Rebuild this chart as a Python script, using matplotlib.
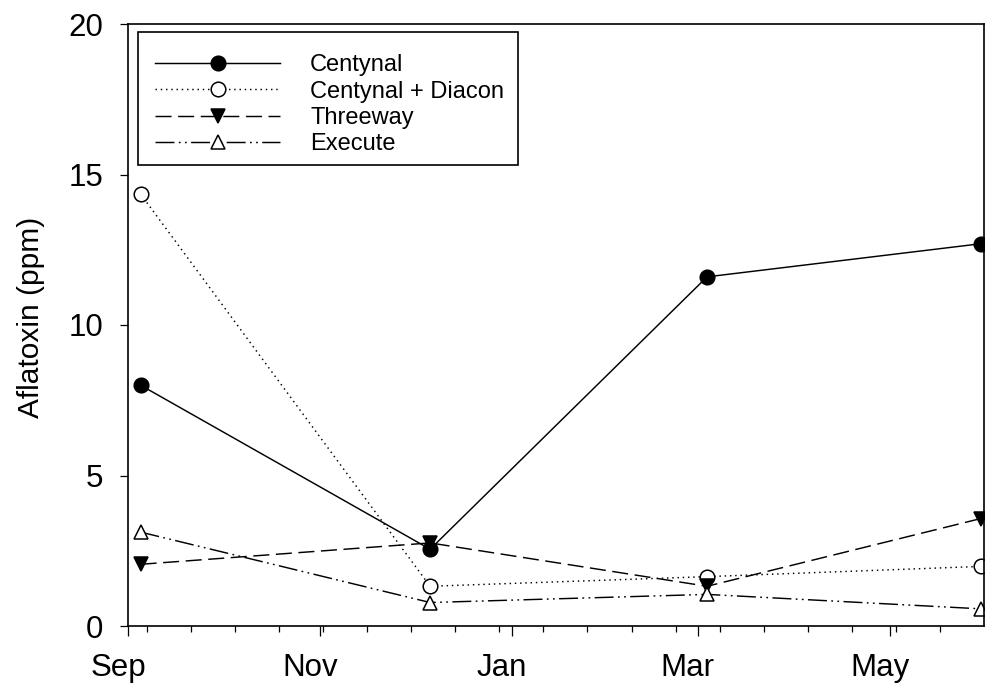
import datetime as dt
import matplotlib
matplotlib.use("Agg")
import matplotlib.pyplot as plt
import matplotlib.dates as mdates
import matplotlib.transforms as mtransforms
from matplotlib.patches import Rectangle

plt.rcParams['font.family'] = ['Liberation Sans', 'DejaVu Sans']

# ---- data ----
sample_dates = ["2004-09-05", "2004-12-06", "2005-03-04", "2005-05-30"]
centynal = [8.0, 2.55, 11.6, 12.7]
centynal_diacon = [14.35, 1.32, 1.64, 1.98]
threeway = [2.05, 2.76, 1.32, 3.57]
execute = [3.12, 0.78, 1.05, 0.57]
series_names = ["Centynal", "Centynal + Diacon", "Threeway", "Execute"]
month_labels = ["Sep", "Nov", "Jan", "Mar", "May"]
y_ticks = [0, 5, 10, 15, 20]

dates = [dt.datetime.strptime(d, "%Y-%m-%d") for d in sample_dates]
x_start = dt.datetime(2004, 9, 1)
x_end = dt.datetime(2005, 5, 31)

fig = plt.figure(figsize=(9.91, 6.98), dpi=100)
ax = fig.add_axes([128/991, 72/698, 856/991, 602/698])

styles = [
    dict(linestyle='-', marker='o', mfc='black'),
    dict(linestyle=(0, (1, 2.6)), marker='o', mfc='white'),
    dict(linestyle=(0, (11, 4.5)), marker='v', mfc='black'),
    dict(linestyle=(0, (13, 3, 1.2, 3, 1.2, 3)), marker='^', mfc='white'),
]
for vals, name, st in zip([centynal, centynal_diacon, threeway, execute], series_names, styles):
    ax.plot(dates, vals, color='black', lw=1.05, markersize=10.5,
            mec='black', mew=1.1, label=name, **st)

ax.set_xlim(x_start, x_end)
ax.set_ylim(0, 20)
ax.set_yticks(y_ticks)

ax.xaxis.set_major_locator(mdates.MonthLocator(bymonth=[9, 11, 1, 3, 5]))
ax.xaxis.set_major_formatter(mdates.DateFormatter('%b'))
minor = []
d = dt.datetime(2004, 9, 7)
while d < x_end:
    minor.append(d)
    d += dt.timedelta(days=14)
ax.set_xticks(minor, minor=True)

for sp in ax.spines.values():
    sp.set_linewidth(1.2)

ax.tick_params(axis='y', direction='out', length=5.8, width=0.9, labelsize=22.5, pad=12)
ax.tick_params(axis='x', which='major', direction='out', length=7.2, width=0.9, labelsize=22.5, pad=12)
ax.tick_params(axis='x', which='minor', direction='out', length=4, width=0.9)

offset = mtransforms.ScaledTranslation(-10/100, 0, fig.dpi_scale_trans)
for lab in ax.get_xticklabels():
    lab.set_transform(lab.get_transform() + offset)

ax.set_ylabel("Aflatoxin (ppm)", fontsize=21.5)
ax.yaxis.set_label_coords(-0.097, 0.513)

leg = ax.legend(loc='upper left', bbox_to_anchor=(0.0178, 0.9691), borderaxespad=0,
                fontsize=17, handlelength=5.3, handletextpad=1.27, borderpad=0.5,
                labelspacing=0.18, numpoints=1, frameon=False)

# legend box (drawn separately, as in the original, with a wider top margin)
ax.add_patch(Rectangle((0.0117, 0.7658), 0.4439, 0.2209, transform=ax.transAxes,
                       fill=False, edgecolor='black', lw=1.2, zorder=5))

fig.savefig("out.png", dpi=100)
